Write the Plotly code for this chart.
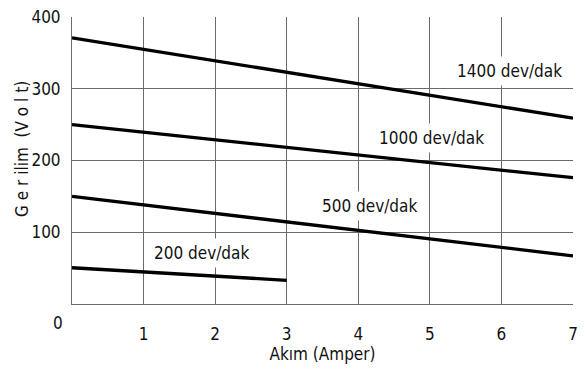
import plotly.graph_objects as go

# Current (A) vs. terminal voltage (V) for several speeds
speed_labels = ["1400 dev/dak", "1000 dev/dak", "500 dev/dak", "200 dev/dak"]
current_1400 = [0, 7]
voltage_1400 = [371, 259]
current_1000 = [0, 7]
voltage_1000 = [250, 176]
current_500 = [0, 7]
voltage_500 = [150, 67]
current_200 = [0, 3]
voltage_200 = [50.5, 33]

# label anchor points (data units)
label_x = [6.11, 5.02, 4.15, 1.81]
label_y = [325, 232, 136, 71]

x_ticks = [1, 2, 3, 4, 5, 6, 7]
y_ticks = [100, 200, 300, 400]
y_grid = [100, 200, 300]

FONT = "DejaVu Sans Condensed, Liberation Sans Narrow, Liberation Sans, sans-serif"
GRID = "#6a6a6a"
TXT = "#111"
FS = 17

fig = go.Figure()
series = [
    (current_1400, voltage_1400),
    (current_1000, voltage_1000),
    (current_500, voltage_500),
    (current_200, voltage_200),
]
for (xs, ys), name in zip(series, speed_labels):
    fig.add_trace(go.Scatter(x=xs, y=ys, mode="lines", name=name,
                             line=dict(color="black", width=3.3),
                             showlegend=False, cliponaxis=False))

for txt, lx, ly in zip(speed_labels, label_x, label_y):
    fig.add_annotation(x=lx, y=ly, text=txt, showarrow=False,
                       font=dict(family=FONT, size=FS, color=TXT),
                       bgcolor="white", borderpad=4)

# stand-alone origin label
fig.add_annotation(x=0, y=0, text="0", showarrow=False, xshift=-14, yshift=-19,
                   font=dict(family=FONT, size=FS, color=TXT))

# vertical axis title, spaced out letters
fig.add_annotation(x=-0.1, y=0.54, xref="paper", yref="paper",
                   text="G e r ilim  (V o l t)", textangle=-90,
                   showarrow=False, xanchor="center", yanchor="middle",
                   font=dict(family=FONT, size=FS, color=TXT))

fig.update_layout(
    width=585, height=369,
    margin=dict(l=72, r=12, t=17, b=65),
    paper_bgcolor="white", plot_bgcolor="white",
    xaxis=dict(range=[0, 7], tickvals=x_ticks, showgrid=True, gridcolor=GRID,
               gridwidth=1, showline=True, linecolor=GRID, linewidth=1,
               ticks="outside", ticklen=15, tickcolor="rgba(0,0,0,0)",
               tickfont=dict(family=FONT, size=FS, color=TXT),
               title=dict(text="Akım (Amper)", standoff=0,
                          font=dict(family=FONT, size=FS, color=TXT)),
               zeroline=False, automargin=False),
    yaxis=dict(range=[0, 400], tickvals=y_ticks, showgrid=False,
               minor=dict(tickvals=y_grid, showgrid=True, gridcolor=GRID,
                          gridwidth=1, ticks=""),
               showline=True, linecolor=GRID, linewidth=1,
               ticks="outside", ticklen=7, tickcolor="rgba(0,0,0,0)",
               tickfont=dict(family=FONT, size=FS, color=TXT),
               zeroline=False, automargin=False),
)

fig.write_html("out.html")
